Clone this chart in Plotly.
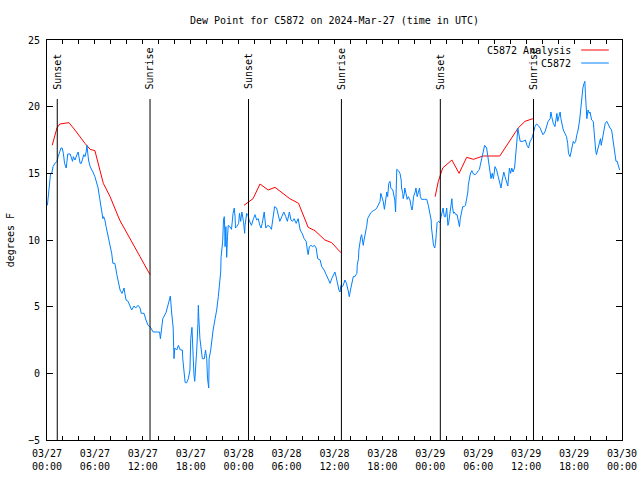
import plotly.graph_objects as go
import pandas as pd

BASE = pd.Timestamp("2024-03-27 00:00")
END = pd.Timestamp("2024-03-30 00:00")

# Observed dew point (hours since 2024-03-27 00:00 UTC, deg F)
blue_hours = [0.05, 0.2, 0.33, 0.45, 0.6, 0.75, 1.0, 1.25, 1.4, 1.6, 1.75, 1.9, 2.05, 2.2, 2.4, 2.5, 2.6, 2.9,
              3.1, 3.2, 3.3, 3.5, 3.75, 3.9, 4.0, 4.15, 4.3, 4.45, 4.6, 4.75, 4.9, 5.0, 5.1, 5.2, 5.4, 5.6,
              5.75, 6.0, 6.25, 6.4, 6.6, 6.75, 7.0, 7.1, 7.25, 7.4, 7.6, 7.75, 7.9, 8.1, 8.25, 8.5, 8.75,
              8.95, 9.15, 9.4, 9.65, 9.75, 9.9, 10.15, 10.4, 10.6, 10.9, 11.1, 11.4, 11.65, 11.8, 12.15,
              12.4, 12.65, 12.9, 13.3, 13.8, 14.1, 14.2, 14.4, 14.5, 14.9, 15.15, 15.3, 15.45, 15.6, 15.8,
              15.9, 16.0, 16.25, 16.45, 16.7, 16.95, 17.0, 17.2, 17.3, 17.5, 17.7, 17.9, 18.0, 18.15, 18.25,
              18.4, 18.5, 18.6, 18.75, 18.9, 18.95, 19.0, 19.15, 19.3, 19.45, 19.7, 19.85, 20.0, 20.1, 20.25,
              20.3, 20.5, 20.6, 20.8, 21.05, 21.25, 21.45, 21.6, 21.75, 21.8, 22.0, 22.1, 22.2, 22.25, 22.3,
              22.4, 22.5, 22.6, 22.7, 22.9, 23.1, 23.3, 23.45, 23.55, 23.6, 23.75, 24.0, 24.1, 24.25, 24.4,
              24.6, 24.75, 24.8, 25.0, 25.15, 25.3, 25.5, 25.6, 25.85, 26.05, 26.25, 26.45, 26.65, 26.8,
              26.95, 27.2, 27.3, 27.4, 27.65, 27.9, 28.1, 28.3, 28.5, 28.75, 28.95, 29.15, 29.4, 29.65, 29.9,
              30.1, 30.35, 30.55, 30.75, 30.95, 31.2, 31.45, 31.7, 31.95, 32.2, 32.45, 32.6, 32.7, 32.85,
              33.05, 33.25, 33.5, 33.7, 33.9, 34.2, 34.4, 34.7, 34.95, 35.2, 35.45, 35.65, 35.85, 36.05,
              36.2, 36.4, 36.55, 36.7, 36.8, 37.0, 37.1, 37.3, 37.5, 37.75, 37.85, 38.0, 38.25, 38.35, 38.55,
              38.8, 38.85, 39.0, 39.05, 39.2, 39.3, 39.4, 39.5, 39.6, 39.7, 39.9, 40.05, 40.15, 40.35, 40.55,
              40.85, 41.05, 41.3, 41.5, 41.7, 41.8, 42.0, 42.1, 42.25, 42.3, 42.4, 42.55, 42.65, 42.8, 42.95,
              43.05, 43.3, 43.45, 43.55, 43.65, 43.7, 43.8, 44.0, 44.2, 44.35, 44.4, 44.55, 44.6, 44.75, 44.8,
              44.95, 45.1, 45.25, 45.45, 45.6, 45.7, 45.8, 45.9, 46.1, 46.2, 46.35, 46.5, 46.65, 46.75, 46.9,
              47.25, 47.55, 47.75, 47.95, 48.1, 48.15, 48.3, 48.4, 48.55, 48.65, 48.75, 48.85, 49.0, 49.2,
              49.35, 49.5, 49.6, 49.75, 49.9, 50.05, 50.2, 50.3, 50.45, 50.6, 50.7, 50.75, 50.9, 51.0, 51.2,
              51.35, 51.5, 51.65, 51.75, 51.9, 52.05, 52.25, 52.4, 52.55, 52.7, 52.75, 52.9, 53.0, 53.2, 53.4,
              53.6, 53.8, 54.0, 54.15, 54.25, 54.4, 54.6, 54.8, 55.05, 55.2, 55.35, 55.5, 55.6, 55.75, 55.9,
              56.1, 56.3, 56.5, 56.7, 56.85, 57.0, 57.2, 57.35, 57.55, 57.7, 57.9, 58.05, 58.2, 58.35, 58.55,
              58.7, 58.85, 58.95, 59.1, 59.25, 59.6, 59.9, 60.1, 60.3, 60.5, 60.7, 60.9, 61.1, 61.3, 61.5,
              61.75, 61.95, 62.1, 62.35, 62.55, 62.75, 63.0, 63.1, 63.2, 63.4, 63.6, 63.75, 63.85, 63.95,
              64.15, 64.25, 64.35, 64.5, 64.65, 64.85, 65.05, 65.2, 65.3, 65.5, 65.6, 65.8, 65.9, 66.05, 66.2,
              66.35, 66.5, 66.7, 66.8, 66.95, 67.1, 67.25, 67.35, 67.42, 67.5, 67.6, 67.75, 67.9, 68.0, 68.2,
              68.4, 68.5, 68.6, 68.7, 68.8, 68.95, 69.1, 69.3, 69.4, 69.6, 69.75, 69.9, 70.1, 70.3, 70.5, 70.7,
              70.85, 71.0, 71.15, 71.25, 71.4, 71.55, 71.7]
blue_dewpt = [12.6, 13.4, 14.5, 15.0, 15.0, 15.5, 15.75, 15.9, 16.25, 16.7, 16.9, 16.9, 16.5, 15.75, 15.4, 15.9, 16.45, 16.45,
              16.0, 15.9, 16.25, 16.0, 16.4, 16.6, 16.25, 15.75, 15.75, 16.1, 16.4, 16.25, 16.6, 17.1, 16.5, 16.0, 15.5, 15.3,
              15.1, 14.75, 14.25, 13.9, 13.1, 12.6, 11.6, 11.75, 11.5, 11.0, 10.4, 10.0, 9.5, 9.0, 8.25, 8.25, 7.4,
              6.75, 6.25, 6.0, 6.4, 6.0, 5.5, 5.4, 5.05, 4.75, 5.05, 4.9, 5.1, 4.9, 4.5, 4.5,
              4.0, 3.6, 3.5, 3.1, 3.1, 3.1, 2.6, 3.75, 4.1, 4.55, 5.05, 5.4, 5.8, 4.6, 3.4,
              1.1, 1.9, 1.75, 2.1, 1.75, 1.75, 1.1, 0.0, -0.7, -0.7, -0.4, 0.25, 2.6, 3.45, 1.25,
              -0.1, -0.6, 0.25, 1.75, 3.75, 5.1, 4.25, 2.6, 1.6, 1.1, 1.1, 1.75, 1.1, -0.4, -1.1,
              1.1, 1.75, 2.4, 3.25, 4.1, 4.75, 5.75, 6.6, 7.6, 8.75, 9.9, 11.5, 11.75, 10.9, 9.5,
              11.0, 8.7, 10.25, 11.1, 11.0, 10.8, 12.0, 12.4, 11.75, 10.9, 11.0, 11.25, 12.0, 11.4, 12.1,
              11.4, 10.5, 11.1, 12.0, 11.9, 11.5, 11.25, 11.1, 11.6, 11.9, 11.5, 11.6, 11.1, 10.9,
              11.25, 12.1, 11.5, 10.9, 11.1, 11.0, 10.8, 11.75, 12.5, 12.4, 11.75, 11.4, 11.75, 12.1, 11.75,
              11.4, 12.1, 11.5, 11.4, 11.6, 11.25, 11.6, 10.75, 10.5, 10.1, 9.9, 9.25, 8.9, 9.5,
              9.6, 9.5, 9.6, 9.4, 8.6, 8.5, 8.0, 7.75, 7.4, 7.0, 6.75, 7.1, 7.4, 7.6,
              7.25, 6.6, 6.25, 6.1, 6.6, 6.5, 6.6, 7.0, 6.75, 6.1, 5.75, 6.25, 6.9, 7.25, 7.25,
              7.5, 8.1, 8.6, 9.25, 10.0, 10.25, 10.4, 10.1, 9.6, 10.0, 10.5, 11.1, 11.6, 11.9, 12.05,
              12.2, 12.25, 12.4, 12.6, 12.9, 13.5, 13.1, 12.9, 12.3, 12.6, 13.1, 13.6, 13.25, 14.25, 14.4,
              13.9, 13.75, 13.4, 13.0, 12.1, 14.5, 15.3, 15.2, 15.0, 14.5, 13.9, 13.5, 13.1, 13.5, 13.9,
              13.5, 13.05, 13.25, 13.0, 12.5, 12.25, 12.6, 13.25, 13.6, 13.9, 13.25, 13.6, 13.9, 13.25, 13.05,
              13.05, 13.05, 12.6, 12.0, 11.5, 10.9, 10.25, 9.6, 9.4, 9.75, 10.5, 11.3, 11.4, 11.3,
              11.75, 12.25, 12.4, 11.75, 11.75, 12.4, 11.1, 11.3, 12.1, 12.6, 13.1, 12.6, 12.0, 12.1, 11.9,
              11.9, 11.5, 11.0, 11.6, 12.0, 12.5, 12.5, 12.6, 13.1, 13.6, 14.1, 14.6, 14.95, 15.2, 14.95,
              14.9, 15.0, 15.2, 15.3, 15.6, 16.0, 16.5, 17.1, 16.9, 16.25, 15.5, 14.9, 14.6, 15.0, 14.6,
              15.5, 15.25, 14.75, 14.1, 13.9, 14.5, 15.1, 14.75, 14.25, 14.05, 15.4, 15.0, 15.4, 15.1, 15.4,
              16.25, 17.5, 18.4, 17.9, 17.4, 17.4, 17.5, 17.1, 16.9, 17.4, 17.6, 18.0, 18.5, 18.7, 18.6,
              18.4, 18.1, 17.9, 18.1, 18.5, 18.9, 19.1, 19.6, 19.25, 18.75, 18.5, 19.25, 19.5, 18.9,
              19.4, 19.6, 19.1, 18.6, 18.25, 18.0, 17.75, 17.25, 16.5, 16.25, 16.6, 17.0, 17.4, 17.25, 17.4,
              17.9, 18.25, 19.0, 19.75, 20.5, 21.4, 21.75, 21.9, 21.0, 20.25, 19.1, 19.75, 19.5, 19.6, 19.0,
              18.9, 18.0, 17.4, 16.75, 16.4, 16.75, 17.1, 17.6, 17.1, 17.9, 18.25, 18.75, 18.9, 18.6, 18.4, 18.25,
              17.6, 16.9, 16.1, 15.9, 15.9, 15.5, 15.25]

# Analysis dew point, three overnight segments
red1_hours = [0.65, 1.25, 1.6, 2.5, 2.75, 3.5, 4.1, 4.75, 5.4, 6.0, 7.05, 7.9, 9.1, 9.77, 10.8, 11.65, 12.9]
red1_dewpt = [17.1, 18.4, 18.7, 18.8, 18.8, 18.25, 17.75, 17.25, 16.8, 16.7, 14.25, 13.25, 11.5, 10.75, 9.6, 8.75, 7.4]
red2_hours = [24.67, 25.8, 26.67, 27.7, 28.55, 29.6, 30.4, 31.5, 32.1, 32.7, 33.55, 34.8, 35.65, 36.8]
red2_dewpt = [12.6, 13.1, 14.2, 13.75, 13.95, 13.5, 13.1, 12.75, 11.9, 10.95, 10.7, 10.0, 9.8, 9.05]
red3_hours = [48.6, 49.0, 49.55, 50.7, 51.6, 52.55, 53.4, 54.6, 56.7, 57.96, 59.0, 59.85, 60.85]
red3_dewpt = [13.25, 14.4, 15.4, 16.0, 15.0, 16.2, 16.05, 16.3, 16.3, 17.5, 18.4, 18.9, 19.1]

sun_labels = ["Sunset", "Sunrise", "Sunset", "Sunrise", "Sunset", "Sunrise"]
sun_times = ["2024-03-27 01:17", "2024-03-27 12:54", "2024-03-28 01:14",
             "2024-03-28 12:52", "2024-03-29 01:15", "2024-03-29 12:55"]

y_ticks = [-5, 0, 5, 10, 15, 20, 25]
x_tick_times = pd.date_range(BASE, END, freq="6h")
x_tick_labels = [t.strftime("%m/%d") + "<br>" + t.strftime("%H:%M") for t in x_tick_times]

series_names = ["C5872 Analysis", "C5872"]
series_colors = ["#ff0000", "#0080ff"]


def to_time(hours):
    return [BASE + pd.Timedelta(hours=h) for h in hours]


red_x, red_y = [], []
for hs, vs in [(red1_hours, red1_dewpt), (red2_hours, red2_dewpt), (red3_hours, red3_dewpt)]:
    red_x += to_time(hs) + [None]
    red_y += vs + [None]

FONT = "DejaVu Sans Mono"
fig = go.Figure()
fig.add_trace(go.Scatter(x=red_x, y=red_y, mode="lines", name=series_names[0],
                         line=dict(color=series_colors[0], width=1), connectgaps=False))
fig.add_trace(go.Scatter(x=to_time(blue_hours), y=blue_dewpt, mode="lines", name=series_names[1],
                         line=dict(color=series_colors[1], width=1)))

shapes = []
annotations = []
for lab, t in zip(sun_labels, sun_times):
    shapes.append(dict(type="line", xref="x", yref="paper", x0=t, x1=t, y0=0, y1=0.8525,
                       line=dict(color="black", width=1)))
    annotations.append(dict(text=lab, x=t, xref="x", y=0.871, yref="paper", textangle=-90,
                            xanchor="center", yanchor="bottom", showarrow=False,
                            font=dict(family=FONT, size=10, color="black")))

# gnuplot-style key (text then line sample)
key_y = [0.975, 0.9425]
for name, col, ky in zip(series_names, series_colors, key_y):
    annotations.append(dict(text=name, x=0.915, xref="paper", y=ky, yref="paper",
                            xanchor="right", yanchor="middle", showarrow=False,
                            font=dict(family=FONT, size=10, color="black")))
    shapes.append(dict(type="line", xref="paper", yref="paper", x0=0.929, x1=0.977, y0=ky, y1=ky,
                       line=dict(color=col, width=1)))

annotations.append(dict(text="degrees F", x=-0.064, xref="paper", y=0.5, yref="paper",
                        textangle=-90, xanchor="center", yanchor="middle", showarrow=False,
                        font=dict(family=FONT, size=10, color="black")))

fig.update_layout(
    width=640, height=480, autosize=False,
    margin=dict(l=47, r=18, t=40, b=40, autoexpand=False),
    paper_bgcolor="white", plot_bgcolor="white",
    showlegend=False,
    font=dict(family=FONT, size=10, color="black"),
    title=dict(text="Dew Point for C5872 on 2024-Mar-27 (time in UTC)", x=0.5, xref="paper",
               xanchor="center", y=1 - 20 / 480, yref="container", yanchor="middle",
               font=dict(family=FONT, size=10, color="black")),
    shapes=shapes, annotations=annotations,
    xaxis=dict(type="date", range=[BASE, END], tickmode="array", tickvals=list(x_tick_times),
               ticktext=x_tick_labels, ticks="inside", ticklen=4, tickcolor="black", tickangle=0,
               showline=True, linecolor="black", linewidth=1, mirror="allticks", automargin=False,
               showgrid=False, zeroline=False, ticklabelstandoff=4,
               minor=dict(tick0=BASE, dtick=2 * 3600 * 1000, ticks="inside", ticklen=4,
                          tickcolor="black", showgrid=False)),
    yaxis=dict(range=[-5, 25], tickmode="array", tickvals=y_ticks, ticks="inside", ticklen=6,
               tickcolor="black", showline=True, linecolor="black", linewidth=1, mirror="allticks",
               automargin=False, showgrid=False, zeroline=False, ticklabelstandoff=4),
)

fig.write_html("out.html", config=dict(displayModeBar=False, responsive=False),
               post_script="document.body.style.margin='0';")
